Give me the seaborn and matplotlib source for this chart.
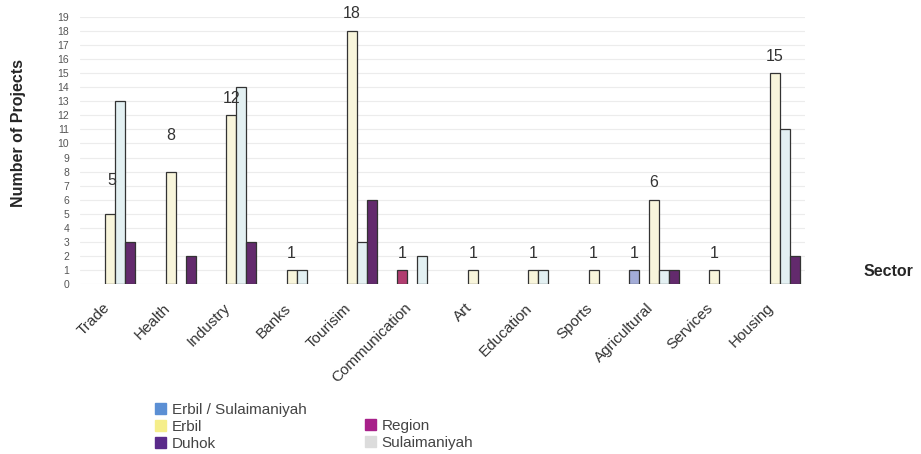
import pandas as pd
import matplotlib
matplotlib.use('Agg')
import matplotlib.pyplot as plt
import matplotlib.transforms as mtransforms
from matplotlib.patches import Patch
import seaborn as sns

# Data
sectors = ['Trade', 'Health', 'Industry', 'Banks', 'Tourisim', 'Communication',
           'Art', 'Education', 'Sports', 'Agricultural', 'Services', 'Housing']
series = ['Erbil / Sulaimaniyah', 'Region', 'Erbil', 'Sulaimaniyah', 'Duhok']

erbil_sul = [0, 0, 0, 0, 0, 0, 0, 0, 0, 1, 0, 0]
region = [0, 0, 0, 0, 0, 1, 0, 0, 0, 0, 0, 0]
erbil = [5, 8, 12, 1, 18, 0, 1, 1, 1, 6, 1, 15]
sulaimaniyah = [13, 0, 14, 1, 3, 2, 0, 1, 0, 1, 0, 11]
duhok = [3, 2, 3, 0, 6, 0, 0, 0, 0, 1, 0, 2]

# labels shown on the chart: (sector, series)
labelled = [('Trade', 'Erbil'), ('Health', 'Erbil'), ('Industry', 'Erbil'),
            ('Banks', 'Erbil'), ('Tourisim', 'Erbil'), ('Communication', 'Region'),
            ('Art', 'Erbil'), ('Education', 'Erbil'), ('Sports', 'Erbil'),
            ('Agricultural', 'Erbil / Sulaimaniyah'), ('Agricultural', 'Erbil'),
            ('Services', 'Erbil'), ('Housing', 'Erbil')]

bar_colors = ['#9aa6e0', '#c42a6e', '#fdf9d6', '#e0f2f4', '#6b1f78']
legend_colors = {'Erbil / Sulaimaniyah': '#5b8fd4', 'Erbil': '#f5ee8a',
                 'Duhok': '#5a2a8a', 'Region': '#a8208a', 'Sulaimaniyah': '#dcdcdc'}

df = pd.DataFrame({'Sector': sectors,
                   'Erbil / Sulaimaniyah': erbil_sul,
                   'Region': region,
                   'Erbil': erbil,
                   'Sulaimaniyah': sulaimaniyah,
                   'Duhok': duhok})
long = df.melt(id_vars='Sector', var_name='City', value_name='Projects')
long = long[long['Projects'] > 0]

sns.set_style('white')
plt.rcParams['font.family'] = ['Liberation Sans', 'DejaVu Sans']

fig = plt.figure(figsize=(9.21, 4.54), dpi=100)
ax = fig.add_axes([0.087, 0.374, 0.787, 0.589])

sns.barplot(data=long, x='Sector', y='Projects', hue='City',
            order=sectors, hue_order=series, palette=bar_colors,
            width=0.83, errorbar=None, edgecolor='#333333', linewidth=0.9,
            legend=False, ax=ax)

ax.set_ylim(0, 19)
ax.set_xlim(-0.5, len(sectors) - 0.5)
ax.set_yticks(range(0, 20))
ax.yaxis.grid(True, color='#ececec', linewidth=0.8)
ax.set_axisbelow(True)
for s in ax.spines.values():
    s.set_visible(False)
ax.tick_params(axis='y', labelsize=7.5, colors='#555555', length=0, pad=8)
ax.tick_params(axis='x', labelsize=11, colors='#333333', length=0, pad=12)
shift = mtransforms.ScaledTranslation(-8 / 100, 0, fig.dpi_scale_trans)
for lab in ax.get_xticklabels():
    lab.set_rotation(45)
    lab.set_ha('right')
    lab.set_rotation_mode('anchor')
    lab.set_transform(lab.get_transform() + shift)

ax.set_xlabel('')
ax.set_ylabel('Number of Projects', fontsize=11.5, fontweight='bold')
ax.yaxis.set_label_coords(-0.075, 0.566)
fig.text(0.965, 0.401, 'Sector', fontsize=11.5, fontweight='bold', ha='center', va='center')

# value labels
for sec, ser in labelled:
    cont = ax.containers[series.index(ser)]
    i = sectors.index(sec)
    for bar in cont:
        cx = bar.get_x() + bar.get_width() / 2
        if round(cx) == i and bar.get_height() > 0:
            h = bar.get_height()
            dx, dy = 0, 1.2
            if sec == 'Trade':
                dx, dy = 0.03, 2.4
            elif sec == 'Health':
                dy = 2.6
            ax.text(cx + dx, h + dy, f'{int(h)}', ha='center', va='center',
                    fontsize=11.5, color='#333333')

# legend: two separate blocks, like the original
def make_legend(names, x, y):
    handles = [Patch(color=legend_colors[n]) for n in names]
    return fig.legend(handles, names, loc='upper left', bbox_to_anchor=(x, y),
                      frameon=False, fontsize=11, handlelength=0.7, handleheight=0.7,
                      handletextpad=0.4, labelspacing=0.2, borderpad=0,
                      labelcolor='#444444')

make_legend(['Erbil / Sulaimaniyah', 'Erbil', 'Duhok'], 0.16, 0.13)
make_legend(['Region', 'Sulaimaniyah'], 0.388, 0.095)

fig.savefig('out.png', dpi=100)
